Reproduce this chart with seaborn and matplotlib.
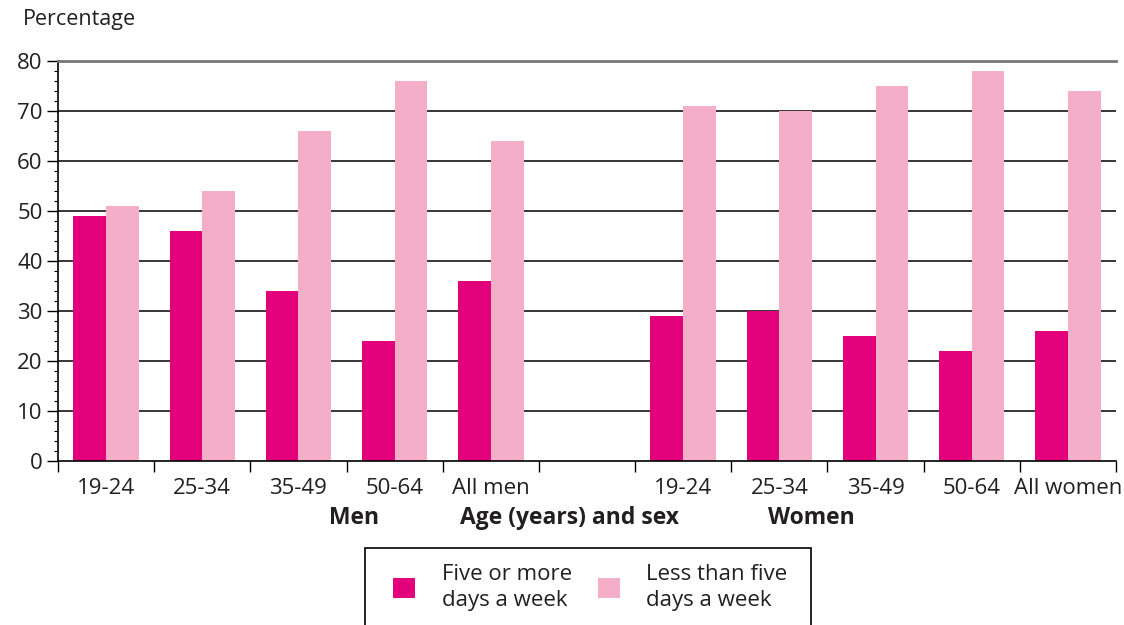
import matplotlib
matplotlib.use("Agg")
import matplotlib.pyplot as plt
from matplotlib.patches import Patch, Rectangle
from matplotlib.ticker import MultipleLocator, FixedLocator
import seaborn as sns
import pandas as pd
import numpy as np

# Category keys (one blank slot separates men from women)
categories = ["M 19-24", "M 25-34", "M 35-49", "M 50-64", "All men", "",
              "W 19-24", "W 25-34", "W 35-49", "W 50-64", "All women"]
tick_labels = ["19-24", "25-34", "35-49", "50-64", "All men", "",
               "19-24", "25-34", "35-49", "50-64", "All women"]
five_or_more = [49, 46, 34, 24, 36, np.nan, 29, 30, 25, 22, 26]
less_than_five = [51, 54, 66, 76, 64, np.nan, 71, 70, 75, 78, 74]
series_names = ["Five or more\ndays a week", "Less than five\ndays a week"]
colors = ["#E3007B", "#F5AEC7"]

df = pd.DataFrame({
    "group": categories * 2,
    "series": [series_names[0]] * len(categories) + [series_names[1]] * len(categories),
    "value": five_or_more + less_than_five,
})

sns.set_style("white")
plt.rcParams["font.family"] = ["Open Sans", "DejaVu Sans"]
text_color = "#231F20"

W, H = 1124, 625
fig = plt.figure(figsize=(W / 100, H / 100), dpi=100)
ax = fig.add_axes([58 / W, 1 - 461 / H, (1116 - 58) / W, 400 / H])

for y in range(10, 80, 10):
    ax.axhline(y, color="black", lw=1.1, zorder=0)

sns.barplot(data=df, x="group", y="value", hue="series", order=categories,
            hue_order=series_names, palette=colors, width=0.68, gap=0,
            saturation=1, errorbar=None, legend=False, ax=ax, zorder=2,
            linewidth=0, edgecolor="none")

ax.set_xlim(-0.5, len(categories) - 0.5)
ax.set_ylim(0, 80)
ax.set_xlabel("")
ax.set_ylabel("")

# y axis
ax.yaxis.set_major_locator(MultipleLocator(10))
ax.yaxis.set_minor_locator(MultipleLocator(2))
ax.tick_params(axis="y", which="major", direction="out", length=8, width=1,
               color="black", labelsize=16, labelcolor=text_color, pad=3, left=True)
ax.tick_params(axis="y", which="minor", direction="out", length=3, width=0.8,
               color="black", left=True)

# x axis: tick marks on slot boundaries, labels in slot centres
bounds = np.arange(len(categories) + 1) - 0.5
ax.xaxis.set_major_locator(FixedLocator(bounds))
ax.xaxis.set_minor_locator(FixedLocator(np.arange(len(categories))))
ax.set_xticklabels([""] * len(bounds))
ax.set_xticklabels(tick_labels, minor=True)
ax.tick_params(axis="x", which="major", direction="out", length=8, width=1,
               color="black", bottom=True)
ax.tick_params(axis="x", which="minor", length=0, labelsize=16,
               labelcolor=text_color, pad=12)

for side in ["left", "bottom"]:
    ax.spines[side].set_color("black")
    ax.spines[side].set_linewidth(1.2)
ax.spines["right"].set_visible(False)
ax.spines["top"].set_color("#777777")
ax.spines["top"].set_linewidth(2)

fig.text(23 / W, 1 - 20 / H, "Percentage", fontsize=15.5, color=text_color,
         ha="left", va="center")

# group captions
for xc, txt in [(354, "Men"), (569, "Age (years) and sex"), (811, "Women")]:
    fig.text(xc / W, 1 - 518 / H, txt, fontsize=16.5, fontweight="bold",
             color=text_color, ha="center", va="center")

# legend box (runs off the bottom edge)
fig.patches.append(Rectangle((365 / W, 1 - 660 / H), (811 - 365) / W, 112 / H,
                             transform=fig.transFigure, facecolor="white",
                             edgecolor="black", linewidth=1.2))

handles = [Patch(facecolor=c, edgecolor="none") for c in colors]
leg = fig.legend(handles, series_names, loc="upper left",
                 bbox_to_anchor=(393 / W, 1 - 564 / H), ncol=2,
                 frameon=False, fontsize=16, handlelength=1.0,
                 handleheight=1.0, handletextpad=1.2, columnspacing=1.15,
                 borderpad=0, borderaxespad=0, labelcolor=text_color)
for t in leg.get_texts():
    t.set_linespacing(1.3)

fig.savefig("out.png", dpi=100)
